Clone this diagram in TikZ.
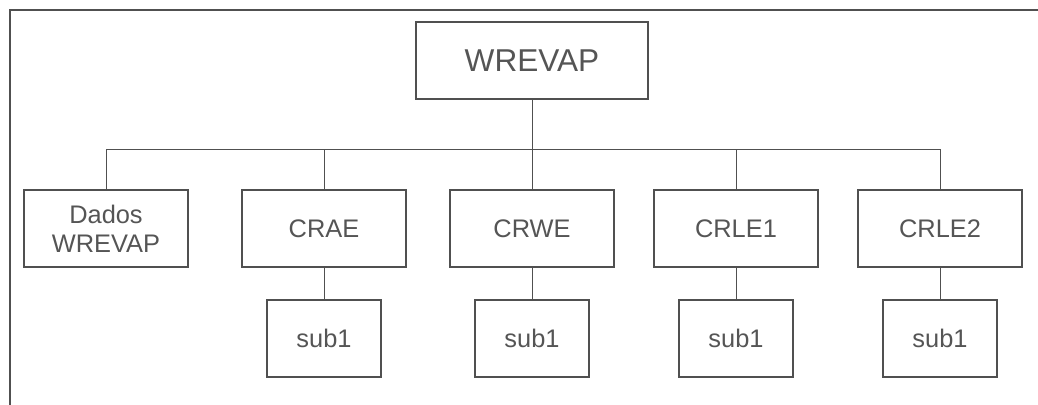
\documentclass[tikz,border=0pt]{standalone}
\usepackage{fontspec}
\setmainfont{Liberation Sans}
\definecolor{linegray}{HTML}{505050}
\definecolor{textgray}{HTML}{555555}

\begin{document}
\begin{tikzpicture}[
  x=0.5pt, y=-0.5pt,
  every node/.style={draw=linegray, line width=0.75pt, text=textgray, font=\fontsize{12.7}{14.5}\selectfont, align=center, inner sep=0pt},
  topbox/.style={minimum width=116pt, minimum height=38.5pt, font=\fontsize{15.8}{18}\selectfont},
  midbox/.style={minimum width=82pt, minimum height=38.5pt},
  subbox/.style={minimum width=57pt, minimum height=38.5pt},
  link/.style={draw=linegray, line width=0.5pt}
]
\useasboundingbox (0,0) rectangle (1038,405);
% frame
\draw[linegray, line width=1pt] (1038,10) -- (10,10) -- (10,405);

\node[topbox] (wrevap) at (532,60.5) {WREVAP};
\coordinate (bus) at (532,150);

\node[midbox] (dados) at (106,228.5) {Dados\\WREVAP};
\node[midbox] (crae)  at (324,228.5) {CRAE};
\node[midbox] (crwe)  at (532,228.5) {CRWE};
\node[midbox] (crle1) at (736,228.5) {CRLE1};
\node[midbox] (crle2) at (940,228.5) {CRLE2};

\node[subbox] (crae-sub)  at (324,338.5) {sub1};
\node[subbox] (crwe-sub)  at (532,338.5) {sub1};
\node[subbox] (crle1-sub) at (736,338.5) {sub1};
\node[subbox] (crle2-sub) at (940,338.5) {sub1};

% connectors
\draw[link] (wrevap) -- (bus);
\draw[link] (dados.north) |- (crle2.north |- bus) -- (crle2.north);
\foreach \n in {crae,crwe,crle1}
  \draw[link] (\n.north) -- (\n.north |- bus);
\foreach \n in {crae,crwe,crle1,crle2}
  \draw[link] (\n) -- (\n-sub);
\end{tikzpicture}
\end{document}
